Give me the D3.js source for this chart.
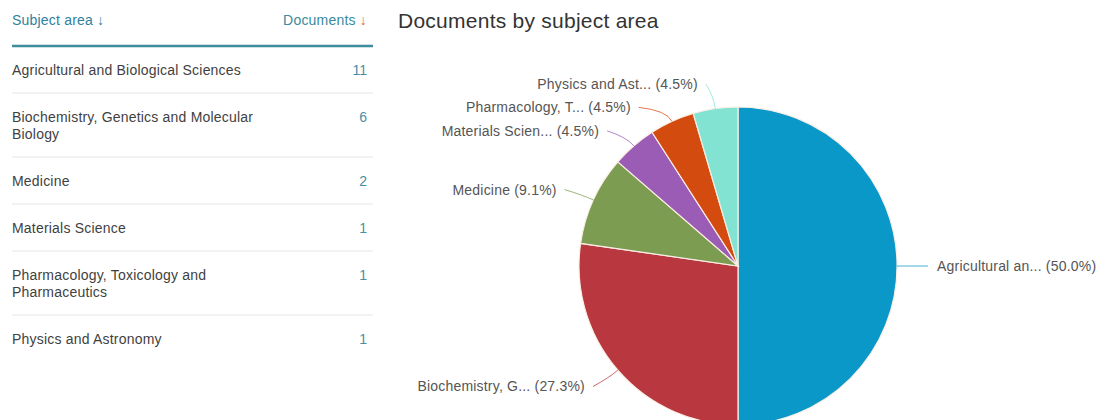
<!DOCTYPE html>
<html>
<head>
<meta charset="utf-8">
<script src="https://cdn.jsdelivr.net/npm/d3@7"></script>
<style>
  html, body { margin: 0; padding: 0; background: #fff; }
  svg { display: block; font-family: "Liberation Sans", Arial, sans-serif; }
</style>
</head>
<body>
<svg id="chart" width="1101" height="420"></svg>
<script>
// Subject areas and document counts
const categories = [
  "Agricultural and Biological Sciences",
  "Biochemistry, Genetics and Molecular Biology",
  "Medicine",
  "Materials Science",
  "Pharmacology, Toxicology and Pharmaceutics",
  "Physics and Astronomy"
];
const documents = [11, 6, 2, 1, 1, 1];
const sliceColors = ["#0a98c9", "#b9373e", "#7b9c51", "#9a5cb5", "#d44b10", "#82e3d3"];
const headers = ["Subject area", "Documents"];
const chartTitle = "Documents by subject area";

const svg = d3.select("#chart");

// ---------- Table ----------
const table = svg.append("g");
const tLeft = 12, tRight = 373, numRight = 367, wrapWidth = 262;
const tFont = 14, tSpacing = 0.2;

table.append("text")
  .attr("x", tLeft).attr("y", 25)
  .attr("font-size", tFont).attr("letter-spacing", tSpacing).attr("fill", "#2f7f9e")
  .text(headers[0] + " \u2193");

const docHead = table.append("text")
  .attr("x", numRight).attr("y", 25)
  .attr("font-size", tFont).attr("letter-spacing", tSpacing)
  .attr("text-anchor", "end").attr("fill", "#3a8aa0");
docHead.append("tspan").text(headers[1] + " ");
docHead.append("tspan").attr("fill", "#e8663a").text("\u2193");

table.append("line")
  .attr("x1", tLeft).attr("x2", tRight).attr("y1", 46).attr("y2", 46)
  .attr("stroke", "#3d8d9b").attr("stroke-width", 2.5);

// word wrap helper using measured text length
function wrapWords(str) {
  const probe = table.append("text").attr("font-size", tFont).attr("letter-spacing", tSpacing);
  const words = str.split(" ");
  const lines = [];
  let cur = "";
  words.forEach(w => {
    const trial = cur ? cur + " " + w : w;
    probe.text(trial);
    if (probe.node().getComputedTextLength() > wrapWidth && cur) {
      lines.push(cur);
      cur = w;
    } else {
      cur = trial;
    }
  });
  if (cur) lines.push(cur);
  probe.remove();
  return lines;
}

let rowTop = 46;
categories.forEach((name, i) => {
  const lines = wrapWords(name);
  const firstCenter = rowTop + 24;
  const txt = table.append("text")
    .attr("font-size", tFont).attr("letter-spacing", tSpacing).attr("fill", "#3f3f3f");
  lines.forEach((ln, j) => {
    txt.append("tspan")
      .attr("x", tLeft)
      .attr("y", firstCenter + 5 + j * 17)
      .text(ln);
  });
  table.append("text")
    .attr("x", numRight).attr("y", firstCenter + 5)
    .attr("font-size", tFont).attr("text-anchor", "end").attr("fill", "#4a8ea4")
    .text(documents[i]);
  const rowH = 47 + 17 * (lines.length - 1);
  rowTop += rowH;
  if (i < categories.length - 1) {
    table.append("line")
      .attr("x1", tLeft).attr("x2", tRight).attr("y1", rowTop).attr("y2", rowTop)
      .attr("stroke", "#e6e6e6").attr("stroke-width", 1);
  }
});

// ---------- Title ----------
svg.append("text")
  .attr("x", 398).attr("y", 28)
  .attr("font-size", 21).attr("letter-spacing", 0.25).attr("fill", "#333")
  .text(chartTitle);

// ---------- Pie ----------
const cx = 738, cy = 266, r = 159;
const total = d3.sum(documents);
const pct = d3.format(".1%");

const pie = d3.pie().sort(null).value(d => d)(documents);
const arc = d3.arc().innerRadius(0).outerRadius(r);

const pieG = svg.append("g").attr("transform", `translate(${cx},${cy})`);
pieG.selectAll("path").data(pie).join("path")
  .attr("d", arc)
  .attr("fill", (d, i) => sliceColors[i])
  .attr("stroke", "#fbeee4").attr("stroke-width", 1.2);

// label anchors along each slice's mid angle
const labelR = r + 25;
const labels = pie.map((d, i) => {
  const a = (d.startAngle + d.endAngle) / 2;
  const sx = Math.sin(a), sy = -Math.cos(a);
  return {
    i,
    right: sx > 0.001,
    ex: sx * r, ey: sy * r,
    bx: sx * (r + 12), by: sy * (r + 12),
    lx: sx * labelR, ly: sy * labelR,
    text: (categories[i].length > 15 ? categories[i].slice(0, 15) + "..." : categories[i]) +
          " (" + pct(documents[i] / total) + ")"
  };
});

// keep left-side labels from overlapping, then slide them along the label circle
const left = labels.filter(l => !l.right).sort((a, b) => a.ly - b.ly);
for (let k = 1; k < left.length; k++) {
  if (left[k].ly - left[k - 1].ly < 23.5) {
    left[k].ly = left[k - 1].ly + 23.5;
    const dy = Math.min(Math.abs(left[k].ly), labelR);
    left[k].lx = -Math.sqrt(labelR * labelR - dy * dy);
  }
}

labels.forEach(l => {
  const endX = l.right ? l.lx + 6 : l.lx - 6;
  pieG.append("path")
    .attr("d", `M${l.ex},${l.ey} Q${l.bx},${l.by} ${endX},${l.ly}`)
    .attr("fill", "none")
    .attr("stroke", sliceColors[l.i]).attr("stroke-opacity", 0.75)
    .attr("stroke-width", 1);
  pieG.append("text")
    .attr("x", l.right ? l.lx + 15 : l.lx - 14)
    .attr("y", l.ly + 5)
    .attr("font-size", 14).attr("letter-spacing", 0.2).attr("fill", "#555")
    .attr("text-anchor", l.right ? "start" : "end")
    .text(l.text);
});
</script>
</body>
</html>
